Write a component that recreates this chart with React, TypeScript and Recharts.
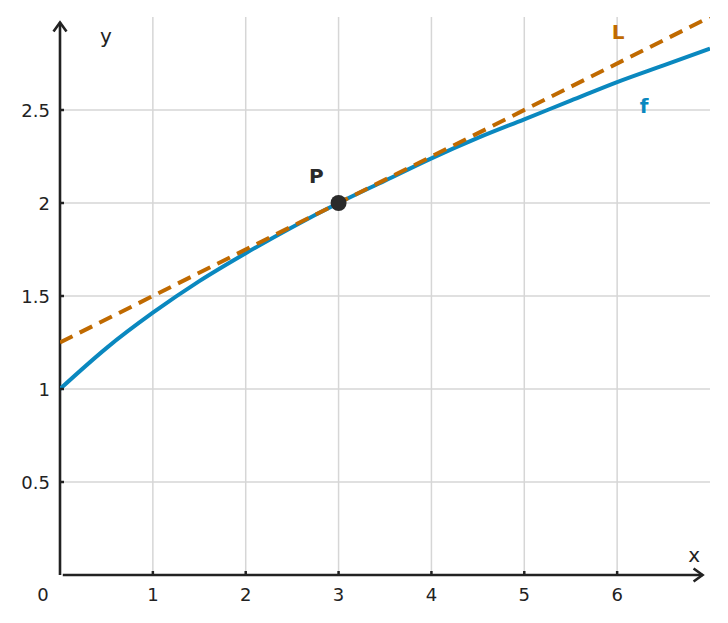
import {
  LineChart,
  Line,
  XAxis,
  YAxis,
  ReferenceLine,
  ReferenceDot,
} from "recharts"

// f(x)
const curveX = [0, 0.5, 1, 1.5, 2, 2.5, 3, 3.5, 4, 4.5, 5, 5.5, 6, 6.5, 7]
const curveY = [1, 1.22, 1.41, 1.58, 1.73, 1.87, 2, 2.12, 2.24, 2.35, 2.45, 2.55, 2.65, 2.74, 2.83]

// tangent line L (dashed)
const tangentX = [0, 7]
const tangentY = [1.25, 3]

const pointP = { x: 3, y: 2 }

const xTicks = [0, 1, 2, 3, 4, 5, 6]
const yTicks = [0.5, 1, 1.5, 2, 2.5]

const curveData = curveX.map((x, i) => ({ x, f: curveY[i] }))
const tangentData = tangentX.map((x, i) => ({ x, L: tangentY[i] }))

const INK = "#222222"
const BLUE = "#0a88bf"
const ORANGE = "#c06a00"
const GRID = "#d6d6d6"
const FONT = "DejaVu Sans, sans-serif"

function XTick({ x, y, payload }: any) {
  const v = payload.value
  return (
    <g>
      {v !== 0 && <line x1={x} y1={y} x2={x} y2={y - 4} stroke={INK} strokeWidth={2.5} />}
      <text
        x={v === 0 ? x - 17 : x}
        y={y + 19}
        textAnchor="middle"
        dominantBaseline="central"
        fontSize={18}
        fontFamily={FONT}
        fill={INK}
      >
        {v}
      </text>
    </g>
  )
}

function YTick({ x, y, payload }: any) {
  return (
    <g>
      <line x1={x} y1={y} x2={x + 4} y2={y} stroke={INK} strokeWidth={2.5} />
      <text
        x={x - 10}
        y={y}
        textAnchor="end"
        dominantBaseline="central"
        fontSize={18}
        fontFamily={FONT}
        fill={INK}
      >
        {payload.value}
      </text>
    </g>
  )
}

// axis line drawn with an open arrowhead at its end
function ArrowLine(props: any) {
  const { x1, y1, x2, y2 } = props
  const dx = x2 - x1
  const dy = y2 - y1
  const len = Math.hypot(dx, dy) || 1
  const ux = dx / len
  const uy = dy / len
  const back = 9
  const side = 6.5
  const ax = x2 - ux * back
  const ay = y2 - uy * back
  return (
    <g>
      <line x1={x1} y1={y1} x2={x2} y2={y2} stroke={INK} strokeWidth={2.6} />
      <polyline
        points={`${ax - uy * side},${ay + ux * side} ${x2},${y2} ${ax + uy * side},${ay - ux * side}`}
        fill="none"
        stroke={INK}
        strokeWidth={2.6}
      />
    </g>
  )
}

function label(value: string, fill: string, bold: boolean) {
  return {
    value,
    position: "center" as const,
    fill,
    fontSize: 20,
    fontFamily: FONT,
    fontWeight: bold ? "bold" : "normal",
  }
}

export default function App() {
  return (
    <div style={{ position: "absolute", left: 0, top: 0, width: 728, height: 623, background: "#fff" }}>
      <LineChart width={728} height={623} margin={{ top: 17, right: 18, left: 0, bottom: 0 }}>
        <XAxis
          type="number"
          dataKey="x"
          domain={[0, 7]}
          ticks={xTicks}
          interval={0}
          axisLine={false}
          tickLine={false}
          tickSize={0}
          tickMargin={0}
          height={48}
          tick={<XTick />}
          allowDataOverflow
        />
        <YAxis
          type="number"
          domain={[0, 3]}
          ticks={yTicks}
          interval={0}
          axisLine={false}
          tickLine={false}
          tickSize={0}
          tickMargin={0}
          width={60}
          tick={<YTick />}
          allowDataOverflow
        />
        {xTicks.filter((t) => t > 0).map((t) => (
          <ReferenceLine key={`gx${t}`} x={t} stroke={GRID} strokeWidth={1.5} />
        ))}
        {yTicks.map((t) => (
          <ReferenceLine key={`gy${t}`} y={t} stroke={GRID} strokeWidth={1.5} />
        ))}
        <ReferenceLine
          segment={[{ x: 0, y: 0 }, { x: 0, y: 2.97 }]}
          ifOverflow="visible"
          shape={ArrowLine}
        />
        <ReferenceLine
          segment={[{ x: 0.03, y: 0 }, { x: 6.92, y: 0 }]}
          ifOverflow="visible"
          shape={ArrowLine}
        />
        <Line
          data={curveData}
          dataKey="f"
          type="monotone"
          stroke={BLUE}
          strokeWidth={4}
          dot={false}
          isAnimationActive={false}
        />
        <Line
          data={tangentData}
          dataKey="L"
          type="linear"
          stroke={ORANGE}
          strokeWidth={4}
          strokeDasharray="14 8"
          dot={false}
          isAnimationActive={false}
        />
        <ReferenceDot x={pointP.x} y={pointP.y} r={8} fill="#2a2a2a" stroke="none" ifOverflow="visible" />
        <ReferenceDot x={2.76} y={2.145} r={1} fill="none" stroke="none" ifOverflow="visible" label={label("P", "#2a2a2a", true)} />
        <ReferenceDot x={6.01} y={2.92} r={1} fill="none" stroke="none" ifOverflow="visible" label={label("L", ORANGE, true)} />
        <ReferenceDot x={6.29} y={2.52} r={1} fill="none" stroke="none" ifOverflow="visible" label={label("f", BLUE, true)} />
        <ReferenceDot x={0.495} y={2.9} r={1} fill="none" stroke="none" ifOverflow="visible" label={label("y", INK, false)} />
        <ReferenceDot x={6.83} y={0.108} r={1} fill="none" stroke="none" ifOverflow="visible" label={label("x", INK, false)} />
      </LineChart>
    </div>
  )
}
